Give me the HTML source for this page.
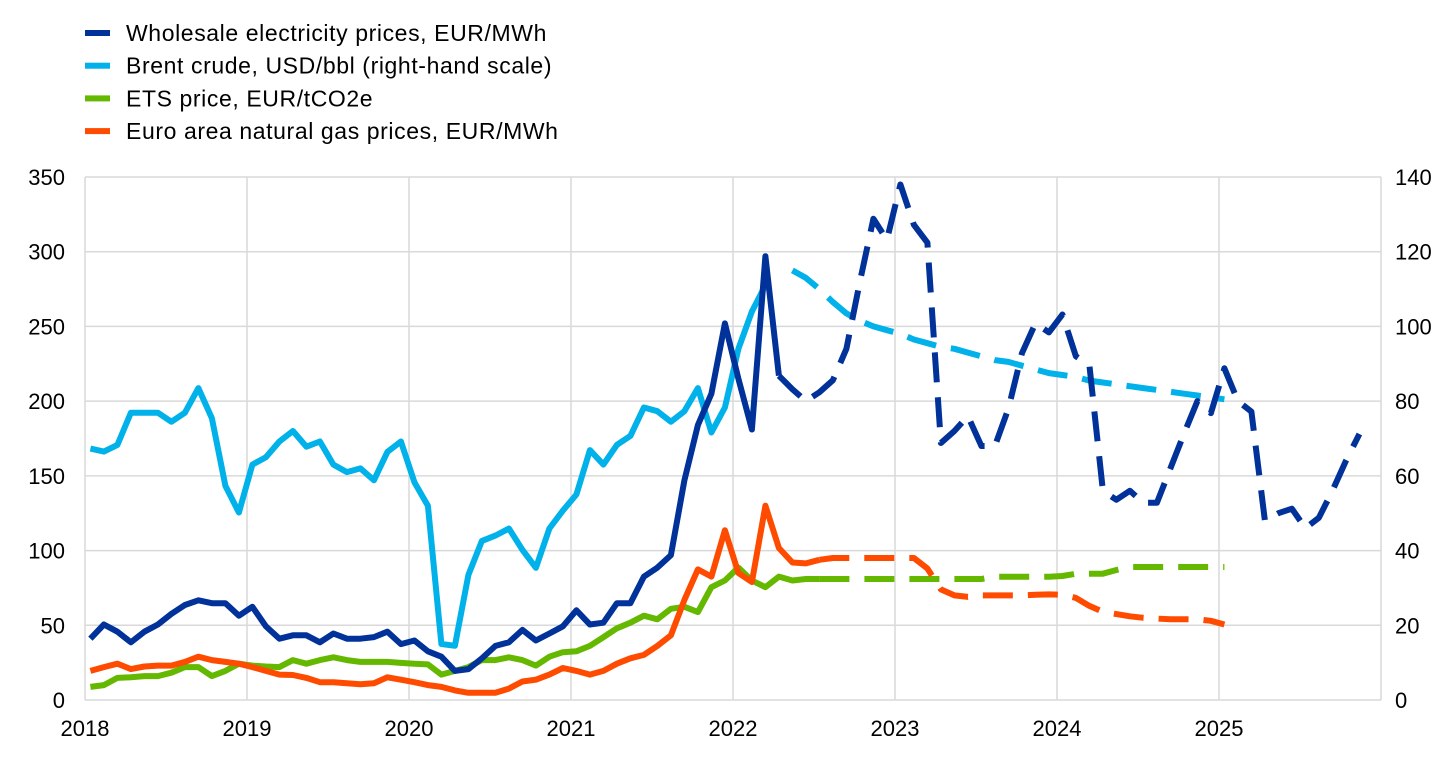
<!DOCTYPE html>
<html><head><meta charset="utf-8"><style>
body{margin:0;background:#fff;width:1456px;height:762px;overflow:hidden;font-family:"Liberation Sans",Arial,sans-serif;}
svg text{font-family:"Liberation Sans",Arial,sans-serif;fill:#000;}
</style></head><body>
<svg id="chart" width="1456" height="762" xmlns="http://www.w3.org/2000/svg">
<g id="legend"></g>
<g id="grid"></g>
<g id="axes"></g>
<g id="series"></g>
</svg>
<script>
const years = ["2018","2019","2020","2021","2022","2023","2024","2025"];
const leftTicks = [0,50,100,150,200,250,300,350];
const rightTicks = [0,20,40,60,80,100,120,140];
// monthly values, index 0 = Jan 2018
const elecActual = [41,50.5,45.7,38.6,45.7,50.5,57.6,63.6,66.7,64.8,64.8,56.4,62.4,49.3,41,43.3,43.3,38.6,44.5,41,41,42.1,45.7,37.4,39.8,32.6,29,19.5,20.7,27.9,36.2,38.6,46.9,39.8,44.5,49.3,60,50.5,51.7,64.8,64.8,82.6,88.6,96.9,147,184,205,252,215,181,297,217];
const elecProjStart = 51;
const elecProj = [217,208,200,206,214,235,280,322,308,345,318,306,172,180,190,170,170,195,232,252,246,258,230,224,140,134,140,132,132,155,178,200,192,222,200,193,120,125,128,115,122,140,160,178];
const brentActual = [67.3,66.5,68.3,76.9,76.9,76.9,74.5,76.9,83.5,75.4,57.3,50.2,63,65,69.2,72,67.8,69.2,63,61,62,58.8,66.4,69.2,58.3,52,15,14.5,33.5,42.6,44,45.9,40.2,35.4,45.9,50.7,55,66.9,63,68.3,70.7,78.3,77.3,74.5,77.3,83.5,71.6,78.3,94,104,111];
const brentProjStart = 52;
const brentProj = [115,113,110,106.5,103.5,101.5,100,99,98,96.5,95.5,94.5,94,93,92,91,90.5,89.5,88.5,87.5,87,86.5,85.5,85,84.5,84,83.5,83,82.5,82,81.5,81,80.5];
const etsActual = [8.8,10,14.8,15.2,16,16,18.3,22,22,16,19.5,24.3,23,22.4,22,26.7,24.3,26.7,28.6,26.7,25.5,25.5,25.5,24.8,24.3,23.8,17,19.5,22,26.7,26.7,28.6,26.7,23,29,32,32.6,36.2,42,48,51.7,56.4,54,61,62.4,58.8,75.5,80,88.6,80,75.5,82.6,80,81,81];
const etsProjStart = 54;
const etsProj = [81,81,81,81,81,81,81,81,81,81,81,81,81,82.5,82.5,82.5,82.5,82.5,83,84.5,84.5,84.5,87,89,89,89,89,89,89,89,89];
const gasActual = [19.5,22,24.3,20.7,22.4,23,23,25.5,29,26.7,25.5,24.3,22,19.5,17,16.7,14.8,11.9,11.9,11.2,10.5,11.2,15.2,13.6,11.9,10,8.8,6.4,4.8,4.8,4.8,7.6,12.4,13.6,17,21.4,19.5,17,19.5,24.3,27.9,30.2,36.2,43.3,67,87.4,82.6,113.6,85,79,130,101.7,92,91.4,93.8];
const gasProjStart = 54;
const gasProj = [93.8,95,95,95,95,95,95,95,88,74,70,69,70,70,70,70,70.5,70.7,70.5,68.3,63,59,57.5,56,55,54.5,54,54,54,53,50.5];

const NS="http://www.w3.org/2000/svg";
const X0=85, YW=162, Y0=700, YT=177;
const xm = i => X0 + (i+0.4)*YW/12;
const yL = v => Y0 - v*(Y0-YT)/350;
const yR = v => Y0 - v*(Y0-YT)/140;
function mk(tag, attrs, parent){const e=document.createElementNS(NS,tag);for(const k in attrs)e.setAttribute(k,attrs[k]);parent.appendChild(e);return e;}
const grid=document.getElementById('grid'), axes=document.getElementById('axes'), series=document.getElementById('series'), legend=document.getElementById('legend');
leftTicks.forEach((t,i)=>{
  const l=mk('line',{x1:X0,x2:X0+8*YW,y1:yL(t),y2:yL(t),stroke:'#d9d9d9','stroke-width':1.5},grid);
  
  
  const tx=mk('text',{x:65,y:yL(t)+8,'text-anchor':'end','font-size':22},axes);tx.textContent=t;
  
  
});
rightTicks.forEach(t=>{
  const tx=mk('text',{x:1395,y:yR(t)+8,'text-anchor':'start','font-size':22},axes);tx.textContent=t;
  
  
});
for(let k=0;k<=years.length;k++){
  const l=mk('line',{x1:X0+k*YW,x2:X0+k*YW,y1:YT,y2:Y0,stroke:'#d9d9d9','stroke-width':1.5},grid);
  
  
}
years.forEach((y,k)=>{
  const tx=mk('text',{x:X0+k*YW,y:736,'text-anchor':'middle','font-size':22},axes);tx.textContent=y;
  
  
});
function path(vals,start,yf,color,dash,name){
  const d=vals.map((v,i)=>(i?'L':'M')+xm(start+i).toFixed(1)+' '+yf(v).toFixed(1)).join(' ');
  const p=mk('path',{d:d,fill:'none',stroke:color,'stroke-width':6,'stroke-linejoin':'round'},series);
  if(dash)p.setAttribute('stroke-dasharray','30 15');
  
  
}
const C={e:'#003299',b:'#00b1ea',t:'#65b800',g:'#ff4b00'};
path(etsActual,0,yL,C.t,false,'ets-price-line');
path(etsProj,etsProjStart,yL,C.t,true,'ets-price-projection');
path(gasActual,0,yL,C.g,false,'gas-price-line');
path(gasProj,gasProjStart,yL,C.g,true,'gas-price-projection');
path(brentActual,0,yR,C.b,false,'brent-line');
path(brentProj,brentProjStart,yR,C.b,true,'brent-projection');
path(elecActual,0,yL,C.e,false,'electricity-price-line');
path(elecProj,elecProjStart,yL,C.e,true,'electricity-price-projection');
const legendLabels=["Wholesale electricity prices, EUR/MWh","Brent crude, USD/bbl (right-hand scale)","ETS price, EUR/tCO2e","Euro area natural gas prices, EUR/MWh"];
const legendColors=[C.e,C.b,C.t,C.g];
legendLabels.forEach((s,i)=>{
  const y=33+i*32.7;
  const r=mk('rect',{x:85,y:y-3,width:25,height:6,fill:legendColors[i]},legend);
  
  
  const tx=mk('text',{x:126,y:y+8,'font-size':23,'letter-spacing':0.6},legend);tx.textContent=s;
  
  
});
</script>
</body></html>
